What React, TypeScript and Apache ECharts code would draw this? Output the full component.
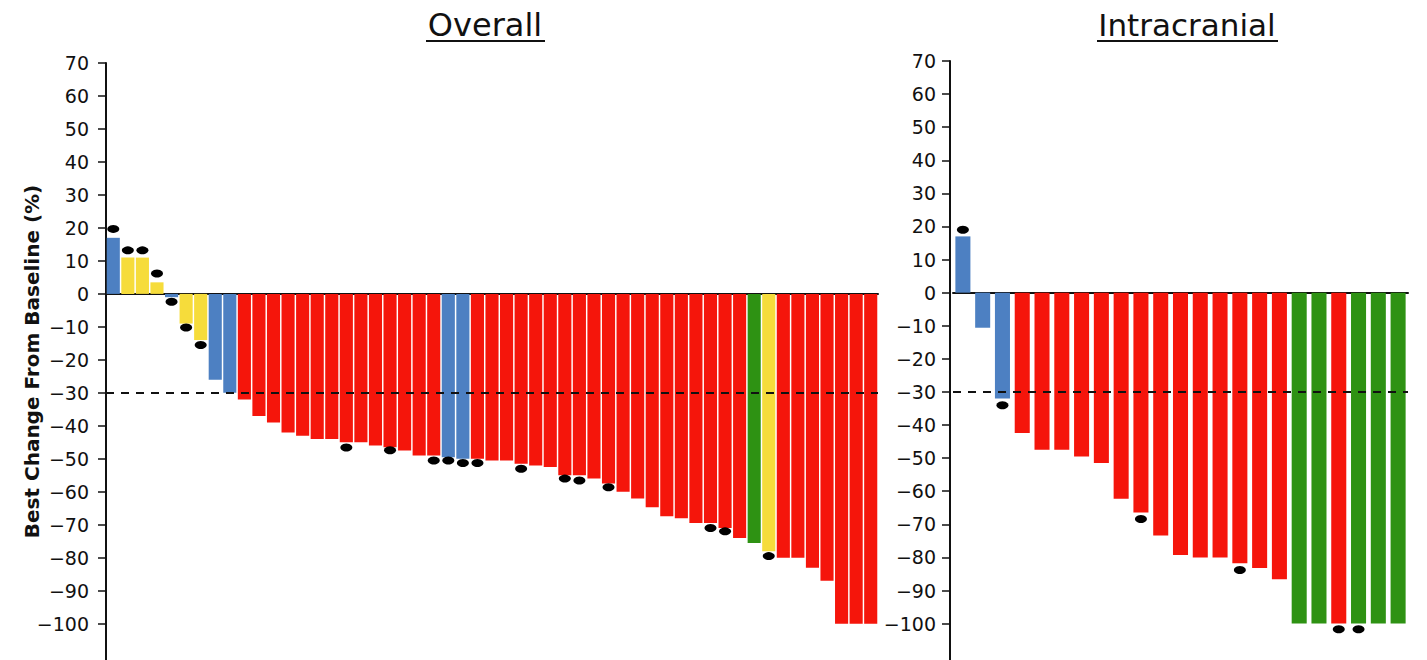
import React, { useEffect, useRef } from "react";
import * as echarts from "echarts";

// ---- Data ----
const overallValues = [
  17, 11, 11, 3.5, -1, -9, -14, -26, -30, -32,
  -37, -39, -42, -43, -44, -44, -45, -45, -46, -46.5,
  -47.5, -49, -49, -49.5, -50, -50, -50.5, -50.5, -51.5, -52,
  -52.5, -55, -55, -56, -57.5, -60, -62, -64.7, -67.4, -68,
  -69.5, -69.5, -71, -74, -75.5, -78, -80, -80, -83, -87,
  -100, -100, -100,
];
const overallGroups = [
  "B", "Y", "Y", "Y", "B", "Y", "Y", "B", "B", "R",
  "R", "R", "R", "R", "R", "R", "R", "R", "R", "R",
  "R", "R", "R", "B", "B", "R", "R", "R", "R", "R",
  "R", "R", "R", "R", "R", "R", "R", "R", "R", "R",
  "R", "R", "R", "R", "G", "Y", "R", "R", "R", "R",
  "R", "R", "R",
];
const overallDots = [
  19.7, 13.2, 13.2, 6.2, -2.4, -10.2, -15.5, null, null, null,
  null, null, null, null, null, null, -46.6, null, null, -47.4,
  null, null, -50.5, -50.5, -51.3, -51.3, null, null, -53, null,
  null, -56, -56.6, null, -58.6, null, null, null, null, null,
  null, -71, -72, null, null, -79.5, null, null, null, null,
  null, null, null,
];

const intracranialValues = [
  17, -10.6, -32, -42.4, -47.5, -47.5, -49.5, -51.5, -62.3, -66.4,
  -73.4, -79.3, -80, -80, -81.8, -83.2, -86.6, -100, -100, -100,
  -100, -100, -100,
];
const intracranialGroups = [
  "B", "B", "B", "R", "R", "R", "R", "R", "R", "R",
  "R", "R", "R", "R", "R", "R", "R", "G", "G", "R",
  "G", "G", "G",
];
const intracranialDots = [
  19, null, -34, null, null, null, null, null, null, -68.4,
  null, null, null, null, -83.8, null, null, null, null, -101.7,
  -101.7, null, null,
];

const yTicks = [70, 60, 50, 40, 30, 20, 10, 0, -10, -20, -30, -40, -50, -60, -70, -80, -90, -100];
const thresholdValue = -30;

const groupColors: Record<string, string> = {
  R: "#f5150b",
  B: "#4d80c2",
  Y: "#f6dc3b",
  G: "#2e9213",
};

const FONT = "'DejaVu Sans', 'Liberation Sans', Arial, sans-serif";

function makeYAxis(gridIndex: number, withName: boolean, offset: number, margin: number) {
  return {
    type: "value",
    gridIndex,
    min: -111,
    max: 70,
    offset,
    name: withName ? "Best Change From Baseline (%)" : "",
    nameLocation: "middle",
    nameRotate: 90,
    nameGap: 64,
    nameMoveOverlap: false,
    nameTextStyle: {
      fontFamily: FONT,
      fontWeight: "bold",
      fontSize: 20,
      color: "#111",
    },
    axisLine: { show: true, lineStyle: { color: "#111", width: 2 } },
    axisTick: {
      show: true,
      length: 8,
      lineStyle: { color: "#111", width: 1.5 },
      customValues: yTicks,
    },
    axisLabel: {
      show: true,
      margin,
      customValues: yTicks,
      fontFamily: FONT,
      fontSize: 19,
      color: "#111",
      padding: [0, 0, 6, 0],
      formatter: (v: number) => (v < 0 ? "\u2212" + Math.abs(v) : String(v)),
    },
    splitLine: { show: false },
  };
}

function makeXAxis(gridIndex: number, cats: string[]) {
  return {
    type: "category",
    gridIndex,
    data: cats,
    axisLine: { show: true, onZero: true, lineStyle: { color: "#111", width: 2 } },
    axisTick: { show: false },
    axisLabel: { show: false },
    splitLine: { show: false },
  };
}

function barSeries(idx: number, values: number[], groups: string[], gap: string) {
  return {
    type: "bar",
    xAxisIndex: idx,
    yAxisIndex: idx,
    barCategoryGap: gap,
    data: values.map((v, i) => ({ value: v, itemStyle: { color: groupColors[groups[i]] } })),
    markLine: {
      silent: true,
      symbol: ["none", "none"],
      label: { show: false },
      lineStyle: { type: [8, 7], color: "#111", width: 2 },
      data: [{ yAxis: thresholdValue }],
    },
    z: 2,
  };
}

function dotSeries(idx: number, dots: (number | null)[], size: number[]) {
  return {
    type: "scatter",
    xAxisIndex: idx,
    yAxisIndex: idx,
    symbol: "circle",
    symbolSize: size,
    itemStyle: { color: "#000", opacity: 1 },
    data: dots.map((d) => (d === null ? "-" : d)),
    z: 5,
  };
}

export default function App() {
  const ref = useRef<HTMLDivElement>(null);

  useEffect(() => {
    document.body.style.margin = "0";
    if (!ref.current) return;
    const chart = echarts.init(ref.current, null, { renderer: "svg" });
    const overallCats = overallValues.map((_, i) => `P${i + 1}`);
    const intraCats = intracranialValues.map((_, i) => `P${i + 1}`);

    chart.setOption({
      animation: false,
      backgroundColor: "#ffffff",
      grid: [
        { left: 106, top: 63, width: 772, bottom: 0, containLabel: false },
        { left: 953, top: 61, width: 455, bottom: 0, containLabel: false },
      ],
      xAxis: [makeXAxis(0, overallCats), makeXAxis(1, intraCats)],
      yAxis: [makeYAxis(0, true, 0, 17), makeYAxis(1, false, 3, 14)],
      series: [
        barSeries(0, overallValues, overallGroups, "10%"),
        dotSeries(0, overallDots, [12, 8]),
        barSeries(1, intracranialValues, intracranialGroups, "24%"),
        dotSeries(1, intracranialDots, [12, 8]),
      ],
      graphic: [
        {
          type: "text",
          x: 485,
          y: 25,
          style: {
            text: "Overall",
            fontFamily: FONT,
            fontSize: 32,
            fill: "#111",
            textAlign: "center",
            textVerticalAlign: "middle",
          },
        },
        {
          type: "line",
          shape: { x1: 426, y1: 41, x2: 545, y2: 41 },
          style: { stroke: "#111", lineWidth: 2 },
        },
        {
          type: "text",
          x: 1187,
          y: 25,
          style: {
            text: "Intracranial",
            fontFamily: FONT,
            fontSize: 31,
            fill: "#111",
            textAlign: "center",
            textVerticalAlign: "middle",
          },
        },
        {
          type: "line",
          shape: { x1: 1097, y1: 41, x2: 1278, y2: 41 },
          style: { stroke: "#111", lineWidth: 2 },
        },
      ],
    });

    return () => chart.dispose();
  }, []);

  return (
    <div
      ref={ref}
      style={{ position: "fixed", left: 0, top: 0, width: 1427, height: 660, background: "#fff" }}
    />
  );
}
